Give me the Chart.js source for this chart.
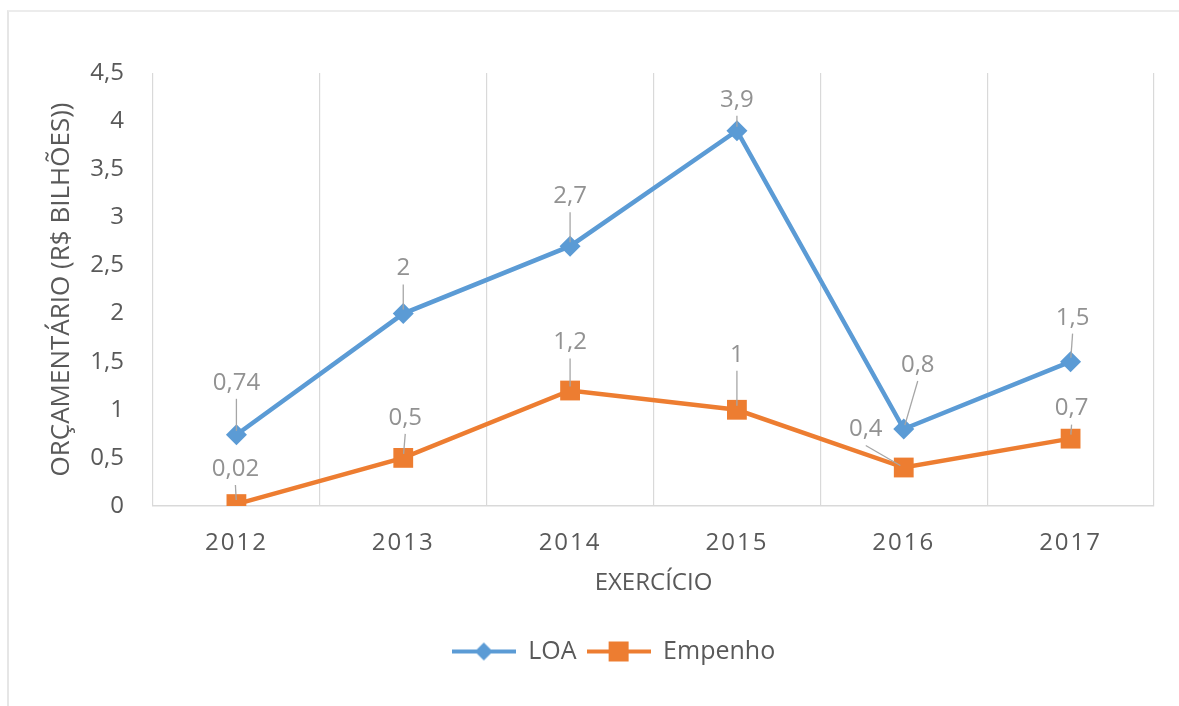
<!DOCTYPE html>
<html>
<head>
<meta charset="utf-8">
<script src="https://cdn.jsdelivr.net/npm/chart.js@4/dist/chart.umd.min.js"></script>
<style>
  html, body { margin: 0; padding: 0; background: #fff; }
  #wrap { position: relative; width: 1179px; height: 706px; }
  #frame { position: absolute; left: 7px; top: 10px; width: 1200px; height: 720px;
           border-left: 2px solid #e6e6e6; border-top: 2px solid #ececec; }
  canvas { position: absolute; left: 0; top: 0; }
</style>
</head>
<body>
<div id="wrap">
  <div id="frame"></div>
  <canvas id="chart" width="1179" height="706"></canvas>
</div>
<script>
const years = ['2012', '2013', '2014', '2015', '2016', '2017']
const loa = [0.74, 2, 2.7, 3.9, 0.8, 1.5]
const empenho = [0.02, 0.5, 1.2, 1, 0.4, 0.7]
const yTicks = [0, 0.5, 1, 1.5, 2, 2.5, 3, 3.5, 4, 4.5]

const BLUE = '#5b9bd5'
const ORANGE = '#ed7d31'
const FONT = "'Open Sans', sans-serif"

// where each value label sits relative to its point (px)
const labelOffsets = [
    [[0, -52], [0, -45], [0, -50], [0, -31], [14, -64], [2, -44]],
    [[-1, -35], [2, -40], [0, -48], [0, -55], [-38, -38], [1, -30]]
]

function fmt(v){
    return String(v).replace('.', ',')
}

// legend symbol: short line with the marker in the middle
function legendIcon(color, shape){
    const c = document.createElement('canvas')
    c.width = 64; c.height = 22
    const g = c.getContext('2d')
    g.strokeStyle = color
    g.lineWidth = 4
    g.beginPath(); g.moveTo(0, 11); g.lineTo(64, 11); g.stroke()
    g.fillStyle = color
    if(shape === 'diamond'){
        g.beginPath()
        g.moveTo(32, 2); g.lineTo(41, 11); g.lineTo(32, 20); g.lineTo(23, 11)
        g.closePath(); g.fill()
    }else{
        g.fillRect(22, 1, 20, 20)
    }
    return c
}
const icons = [legendIcon(BLUE, 'diamond'), legendIcon(ORANGE, 'square')]

const valueLabels = {
    id: 'valueLabels',
    afterDatasetsDraw(chart){
        const ctx = chart.ctx
        ctx.save()
        ctx.font = '24px ' + FONT
        ctx.textAlign = 'center'
        ctx.textBaseline = 'middle'
        chart.data.datasets.forEach((ds, di) => {
            const meta = chart.getDatasetMeta(di)
            meta.data.forEach((pt, i) => {
                const [ox, oy] = labelOffsets[di][i]
                const lx = pt.x + ox
                const ly = pt.y + oy
                // leader line from label bottom toward the point
                const sx = lx, sy = ly + 16
                const dx = pt.x - sx, dy = pt.y - sy
                const len = Math.hypot(dx, dy)
                if(len > 14){
                    const ex = pt.x - dx / len * 4
                    const ey = pt.y - dy / len * 4
                    ctx.strokeStyle = '#a6a6a6'
                    ctx.lineWidth = 1.3
                    ctx.beginPath(); ctx.moveTo(sx, sy); ctx.lineTo(ex, ey); ctx.stroke()
                }
                ctx.fillStyle = '#929292'
                ctx.fillText(fmt(ds.data[i]), lx, ly)
            })
        })
        ctx.restore()
    }
}

// spaced-out year labels like the original
const spacedTicks = {
    id: 'spacedTicks',
    beforeDraw(chart){
        const x = chart.scales.x
        if(x && !x._spaced){
            const orig = x.drawLabels
            x.drawLabels = function(area){
                this.ctx.save()
                this.ctx.letterSpacing = '2px'
                orig.call(this, area)
                this.ctx.restore()
            }
            x._spaced = true
        }
    }
}

const ctx = document.getElementById('chart')
new Chart(ctx, {
    type: 'line',
    data: {
        labels: years,
        datasets: [{
            label: 'LOA',
            data: loa,
            borderColor: BLUE,
            backgroundColor: BLUE,
            borderWidth: 4.5,
            pointStyle: 'rectRot',
            pointRadius: 10.5,
            pointHoverRadius: 10.5,
            pointBorderWidth: 0,
            tension: 0
        }, {
            label: 'Empenho',
            data: empenho,
            borderColor: ORANGE,
            backgroundColor: ORANGE,
            borderWidth: 4.5,
            pointStyle: 'rect',
            pointRadius: 14,
            pointHoverRadius: 14,
            pointBorderWidth: 0,
            tension: 0
        }]
    },
    options: {
        responsive: false,
        animation: false,
        layout: { padding: { top: 73, right: 25, bottom: 32, left: 73 } },
        plugins: {
            tooltip: { enabled: false },
            legend: {
                position: 'bottom',
                labels: {
                    usePointStyle: true,
                    pointStyleWidth: 64,
                    padding: 10,
                    color: '#595959',
                    font: { family: FONT, size: 25 },
                    generateLabels(chart){
                        const items = Chart.defaults.plugins.legend.labels.generateLabels(chart)
                        items.forEach((it, i) => { it.pointStyle = icons[i] })
                        return items
                    }
                }
            }
        },
        scales: {
            x: {
                offset: true,
                grid: { display: true, offset: true, color: '#d9d9d9', lineWidth: 1.2, drawTicks: false },
                border: { display: true, color: '#d9d9d9', width: 1.5 },
                ticks: { color: '#595959', font: { family: FONT, size: 24 }, padding: 23 },
                title: {
                    display: true, text: 'EXERCÍCIO', color: '#595959',
                    font: { family: FONT, size: 24 }, padding: { top: 0, bottom: 31 }
                },
                afterFit(scale){ scale.height = 123 }
            },
            y: {
                min: 0, max: 4.5,
                afterBuildTicks(scale){ scale.ticks = yTicks.map(v => ({ value: v })) },
                grid: { display: false, drawTicks: false },
                border: { display: false },
                ticks: {
                    color: '#595959', font: { family: FONT, size: 24 }, padding: 29,
                    callback: v => fmt(v)
                },
                title: {
                    display: true, text: 'ORÇAMENTÁRIO (R$ BILHÕES))', color: '#595959',
                    font: { family: FONT, size: 26 }, padding: { top: -27, bottom: 0 }
                },
                afterFit(scale){ scale.width = 80 }
            }
        }
    },
    plugins: [valueLabels, spacedTicks]
})
</script>
</body>
</html>
